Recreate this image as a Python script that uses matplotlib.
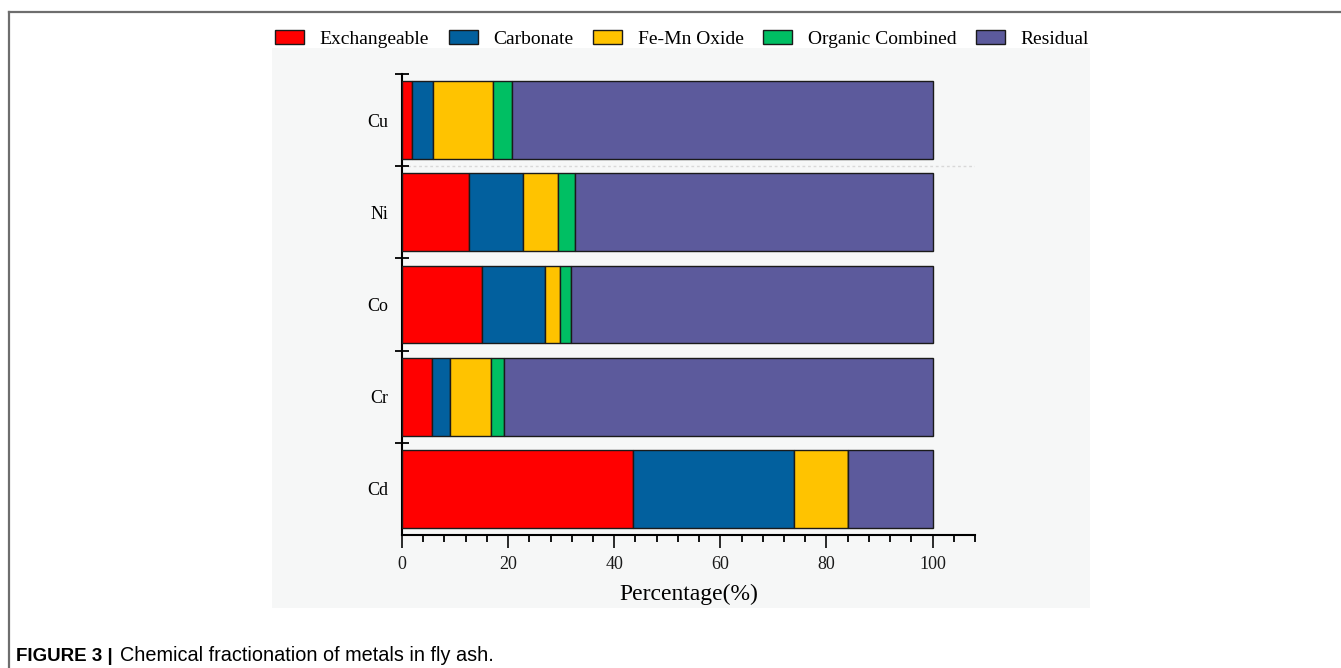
import matplotlib.pyplot as plt
import numpy as np
from matplotlib.lines import Line2D
from matplotlib.patches import Rectangle
from matplotlib.ticker import MultipleLocator, FixedLocator

metals = ["Cu", "Ni", "Co", "Cr", "Cd"]
fractions = ["Exchangeable", "Carbonate", "Fe-Mn Oxide", "Organic Combined", "Residual"]
exchangeable = [1.9, 12.7, 15.1, 5.7, 43.5]
carbonate = [4.0, 10.1, 11.9, 3.3, 30.3]
fe_mn_oxide = [11.3, 6.6, 2.8, 7.8, 10.2]
organic = [3.6, 3.2, 2.1, 2.4, 0.0]
residual = [79.2, 67.4, 68.1, 80.8, 16.0]
colors = ["#ff0000", "#02609e", "#ffc300", "#00bf63", "#5c5a9c"]

W, H = 1341, 668
fig = plt.figure(figsize=(W / 100, H / 100), dpi=100)
plt.rcParams["font.family"] = ["Liberation Serif", "DejaVu Serif"]

# frame of the figure panel (top and left only)
fig.add_artist(Line2D([9 / W, 9 / W], [0, 1 - 12 / H], color="#6e6e6e", lw=1.6,
                      transform=fig.transFigure))
fig.add_artist(Line2D([9 / W, 1], [1 - 12 / H, 1 - 12 / H], color="#6e6e6e", lw=1.6,
                      transform=fig.transFigure))
# light background of the pasted chart
fig.add_artist(Rectangle((272 / W, 1 - 608 / H), (1090 - 272) / W, (608 - 48) / H,
                         transform=fig.transFigure, facecolor="#f6f7f7",
                         edgecolor="none", zorder=0))

ax = fig.add_axes([402 / W, 1 - 535 / H, (975 - 402) / W, (535 - 74) / H])
ax.set_facecolor("none")

y = np.arange(len(metals))[::-1]
series = [exchangeable, carbonate, fe_mn_oxide, organic, residual]
left = np.zeros(len(metals))
handles = []
for name, vals, c in zip(fractions, series, colors):
    vals = np.array(vals)
    b = ax.barh(y, vals, left=left, height=0.845, color=c, edgecolor="#1a1a1a",
                linewidth=1.0, label=name, zorder=3)
    handles.append(b)
    left += vals

ax.axhline(3.5, color="#d8d8d8", ls=(0, (2, 2)), lw=1, zorder=1)

ax.set_xlim(0, 108)
ax.set_ylim(-0.5, 4.5)
ax.xaxis.set_minor_locator(MultipleLocator(4))
ax.set_xticks([0, 20, 40, 60, 80, 100])
ax.set_yticks(y)
ax.set_yticklabels(metals)
ax.yaxis.set_minor_locator(FixedLocator([0.5, 1.5, 2.5, 3.5, 4.5]))
ax.tick_params(axis="y", which="major", length=0, pad=10, labelsize=13)
ax.tick_params(axis="y", which="minor", direction="inout", length=10, width=1.3)
ax.tick_params(axis="x", which="major", direction="out", length=9, width=1.3,
               labelsize=13, pad=6, colors="#1a1a1a")
ax.tick_params(axis="x", which="minor", direction="out", length=5, width=1.3)
for s in ["top", "right"]:
    ax.spines[s].set_visible(False)
for s in ["left", "bottom"]:
    ax.spines[s].set_linewidth(1.5)
ax.set_xlabel("Percentage(%)", fontsize=17, labelpad=8)

fig.legend(handles=handles, labels=fractions, loc="center", ncol=5,
           bbox_to_anchor=(682 / W, 1 - 39 / H), frameon=False, fontsize=14,
           handlelength=1.5, handleheight=0.67, columnspacing=1.0, handletextpad=0.8)

# caption: bold label followed by plain text, sharing one baseline
cap_y = 1 - 661 / H
lab = fig.text(16 / W, cap_y, "FIGURE 3 |", fontsize=13.5, fontweight="bold",
               family=["Liberation Sans", "DejaVu Sans"], va="baseline", ha="left")
fig.canvas.draw()
bb = lab.get_window_extent()
fig.text((bb.x1 + 7) / W, cap_y, "Chemical fractionation of metals in fly ash.",
         fontsize=14.3, family=["Liberation Sans", "DejaVu Sans"], va="baseline", ha="left")

fig.savefig("out.png", dpi=100)
